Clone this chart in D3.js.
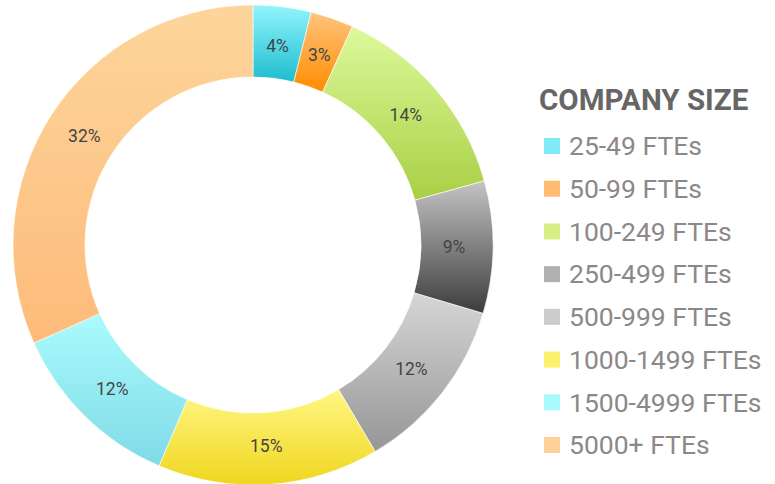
<!DOCTYPE html>
<html>
<head>
<meta charset="utf-8">
<script src="https://cdn.jsdelivr.net/npm/d3@7"></script>
<style>
  body { margin: 0; background: #fff; }
  text { font-family: Roboto, "Noto Sans", sans-serif; }
</style>
</head>
<body>
<svg id="chart" width="775" height="484"></svg>
<script>
// company size share, clockwise from 12 o'clock
var categories = ["25-49 FTEs", "50-99 FTEs", "100-249 FTEs", "250-499 FTEs",
                  "500-999 FTEs", "1000-1499 FTEs", "1500-4999 FTEs", "5000+ FTEs"];
var values = [3.9, 2.9, 13.9, 8.9, 11.9, 14.9, 11.9, 31.7];
var labels = ["4%", "3%", "14%", "9%", "12%", "15%", "12%", "32%"];
var legendTitle = "COMPANY SIZE";

var topColors    = ["#92f5fd", "#ffc47e", "#ddf99b", "#c4c4c4", "#d6d6d6", "#fff784", "#aafbfd", "#fdd59b"];
var bottomColors = ["#1ebccf", "#ff8c00", "#a9cf44", "#3c3c3c", "#969696", "#f0d61e", "#80dae6", "#fdbb7a"];
var swatchColors = ["#80eaf6", "#ffbb70", "#d5ef85", "#b0b0b0", "#cccccc", "#fbf16c", "#a9f9fc", "#fdd197"];

var svg = d3.select("#chart");
var cx = 253, cy = 245, outerR = 240, innerR = 168;

var defs = svg.append("defs");
categories.forEach(function(c, i) {
    var g = defs.append("linearGradient")
        .attr("id", "grad" + i)
        .attr("x1", 0).attr("y1", 0).attr("x2", 0).attr("y2", 1);
    g.append("stop").attr("offset", "0%").attr("stop-color", topColors[i]);
    g.append("stop").attr("offset", "100%").attr("stop-color", bottomColors[i]);
});

var pie = d3.pie().sort(null).value(function(d) { return d; });
var arc = d3.arc().innerRadius(innerR).outerRadius(outerR);
var labelArc = d3.arc().innerRadius(201).outerRadius(201);

var g = svg.append("g").attr("transform", "translate(" + cx + "," + cy + ")");
var arcs = pie(values);

g.selectAll("path.slice")
    .data(arcs)
    .enter().append("path")
    .attr("class", "slice")
    .attr("d", arc)
    .attr("fill", function(d, i) { return "url(#grad" + i + ")"; })
    .attr("stroke", "#fff")
    .attr("stroke-width", 0.6);

g.selectAll("text.lbl")
    .data(arcs)
    .enter().append("text")
    .attr("class", "lbl")
    .attr("transform", function(d) { return "translate(" + labelArc.centroid(d) + ")"; })
    .attr("text-anchor", "middle")
    .attr("dy", "0.35em")
    .attr("font-size", 17.5)
    .attr("fill", "#444")
    .text(function(d, i) { return labels[i]; });

// legend
var legend = svg.append("g").attr("transform", "translate(539,0)");
legend.append("text")
    .attr("x", 0).attr("y", 110)
    .attr("font-size", 29.5)
    .attr("font-weight", "bold")
    .attr("fill", "#666")
    .text(legendTitle);

var rowY = d3.scalePoint().domain(categories).range([146, 445]);

var item = legend.selectAll("g.item")
    .data(categories)
    .enter().append("g")
    .attr("class", "item")
    .attr("transform", function(d) { return "translate(0," + rowY(d) + ")"; });

item.append("rect")
    .attr("x", 5).attr("y", -8)
    .attr("width", 16).attr("height", 16)
    .attr("fill", function(d, i) { return swatchColors[i]; });

item.append("text")
    .attr("x", 30).attr("y", 0)
    .attr("dy", "0.35em")
    .attr("font-size", 26.5)
    .attr("fill", "#8c8888")
    .text(function(d) { return d; });
</script>
</body>
</html>
